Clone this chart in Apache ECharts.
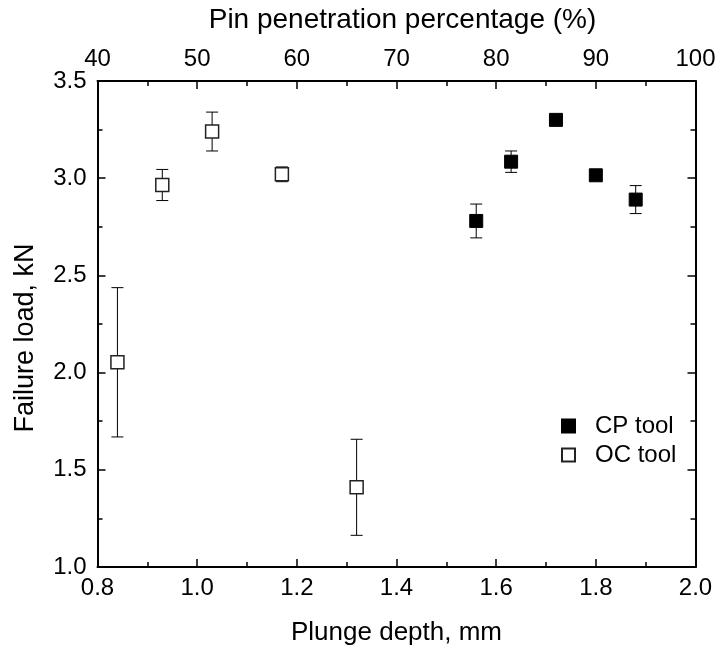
<!DOCTYPE html>
<html><head><meta charset="utf-8">
<script src="https://cdn.jsdelivr.net/npm/echarts@6/dist/echarts.min.js"></script>
<style>html,body{margin:0;padding:0;background:#fff}#c{width:721px;height:652px}</style>
</head><body><div id="c"></div>
<script>
const cpDepth = [1.56, 1.63, 1.72, 1.80, 1.88];
const cpLoad  = [2.78, 3.085, 3.30, 3.015, 2.89];
const cpErr   = [0.087, 0.055, 0.015, 0.015, 0.072];
const ocDepth = [0.84, 0.93, 1.03, 1.17, 1.32];
const ocLoad  = [2.053, 2.965, 3.24, 3.02, 1.41];
const ocErr   = [0.384, 0.08, 0.10, 0.038, 0.247];
const xTicks = {min: 0.8, max: 2.0, interval: 0.2};
const topTicks = {min: 40, max: 100, interval: 10};
const yTicks = {min: 1.0, max: 3.5, interval: 0.5};

const FONT = 'Liberation Sans, Arial, sans-serif';
const pts = (xs, ys) => xs.map((x, i) => [x, ys[i]]);
const errData = (xs, ys, es) => xs.map((x, i) => [x, ys[i] - es[i], ys[i] + es[i]]);

function renderErr(params, api) {
  const x = api.value(0);
  const lo = api.coord([x, api.value(1)]);
  const hi = api.coord([x, api.value(2)]);
  const w = 6;
  const st = {stroke: '#000', lineWidth: 1, fill: null};
  return {type: 'group', children: [
    {type: 'line', shape: {x1: lo[0], y1: lo[1], x2: hi[0], y2: hi[1]}, style: st},
    {type: 'line', shape: {x1: lo[0] - w, y1: lo[1], x2: lo[0] + w, y2: lo[1]}, style: st},
    {type: 'line', shape: {x1: hi[0] - w, y1: hi[1], x2: hi[0] + w, y2: hi[1]}, style: st}
  ]};
}

const axisLine = {show: true, onZero: false, lineStyle: {color: '#000', width: 2}};
const tick = {show: true, inside: true, length: 8, lineStyle: {color: '#000', width: 1.5}};
const minor = {show: true, splitNumber: 2, length: 5, lineStyle: {color: '#000', width: 1.5}};
const lbl = {color: '#000', fontSize: 24, fontFamily: FONT};
const nameStyle = (sz, pad) => ({color: '#000', fontSize: sz, fontFamily: FONT, padding: pad});

const chart = echarts.init(document.getElementById('c'));
chart.setOption({
  animation: false,
  backgroundColor: '#fff',
  grid: {left: 97.5, right: 25.5, top: 81, bottom: 85},
  legend: {
    data: ['CP tool', 'OC tool'],
    orient: 'vertical', left: 556, top: 409,
    itemWidth: 13, itemHeight: 13, itemGap: 5,
    icon: 'rect',
    textStyle: {color: '#000', fontSize: 24, fontFamily: FONT, padding: [0, 0, 0, 15]}
  },
  xAxis: [
    {type: 'value', position: 'bottom', min: xTicks.min, max: xTicks.max, interval: xTicks.interval,
     name: 'Plunge depth, mm', nameLocation: 'middle', nameGap: 53, nameTextStyle: nameStyle(26, 0),
     axisLine, axisTick: tick, minorTick: minor, splitLine: {show: false},
     axisLabel: Object.assign({margin: 9, formatter: v => v.toFixed(1)}, lbl)},
    {type: 'value', position: 'top', min: topTicks.min, max: topTicks.max, interval: topTicks.interval,
     name: 'Pin penetration percentage (%)', nameLocation: 'middle', nameGap: 47, nameTextStyle: nameStyle(28, [0, 0, 0, 12]),
     axisLine, axisTick: tick, minorTick: minor, splitLine: {show: false},
     axisLabel: Object.assign({margin: 10}, lbl)}
  ],
  yAxis: [
    {type: 'value', position: 'left', min: yTicks.min, max: yTicks.max, interval: yTicks.interval,
     name: 'Failure load, kN', nameLocation: 'middle', nameGap: 58, nameTextStyle: nameStyle(27, [0, 28, 0, 0]),
     axisLine, axisTick: tick, minorTick: minor, splitLine: {show: false},
     axisLabel: Object.assign({margin: 11, formatter: v => v.toFixed(1)}, lbl)},
    {type: 'value', position: 'right', min: yTicks.min, max: yTicks.max, interval: yTicks.interval,
     axisLine, axisTick: tick, minorTick: minor, splitLine: {show: false},
     axisLabel: {show: false}}
  ],
  series: [
    {type: 'custom', name: 'cpErr', renderItem: renderErr, data: errData(cpDepth, cpLoad, cpErr), z: 1, silent: true},
    {type: 'custom', name: 'ocErr', renderItem: renderErr, data: errData(ocDepth, ocLoad, ocErr), z: 1, silent: true},
    {type: 'scatter', name: 'CP tool', data: pts(cpDepth, cpLoad), symbol: 'rect', symbolSize: 13, z: 3,
     itemStyle: {color: '#000', borderColor: '#000', borderWidth: 1, opacity: 1}},
    {type: 'scatter', name: 'OC tool', data: pts(ocDepth, ocLoad), symbol: 'rect', symbolSize: 13, z: 3,
     itemStyle: {color: '#fff', borderColor: '#222', borderWidth: 1.5, opacity: 1}}
  ]
});
</script></body></html>
